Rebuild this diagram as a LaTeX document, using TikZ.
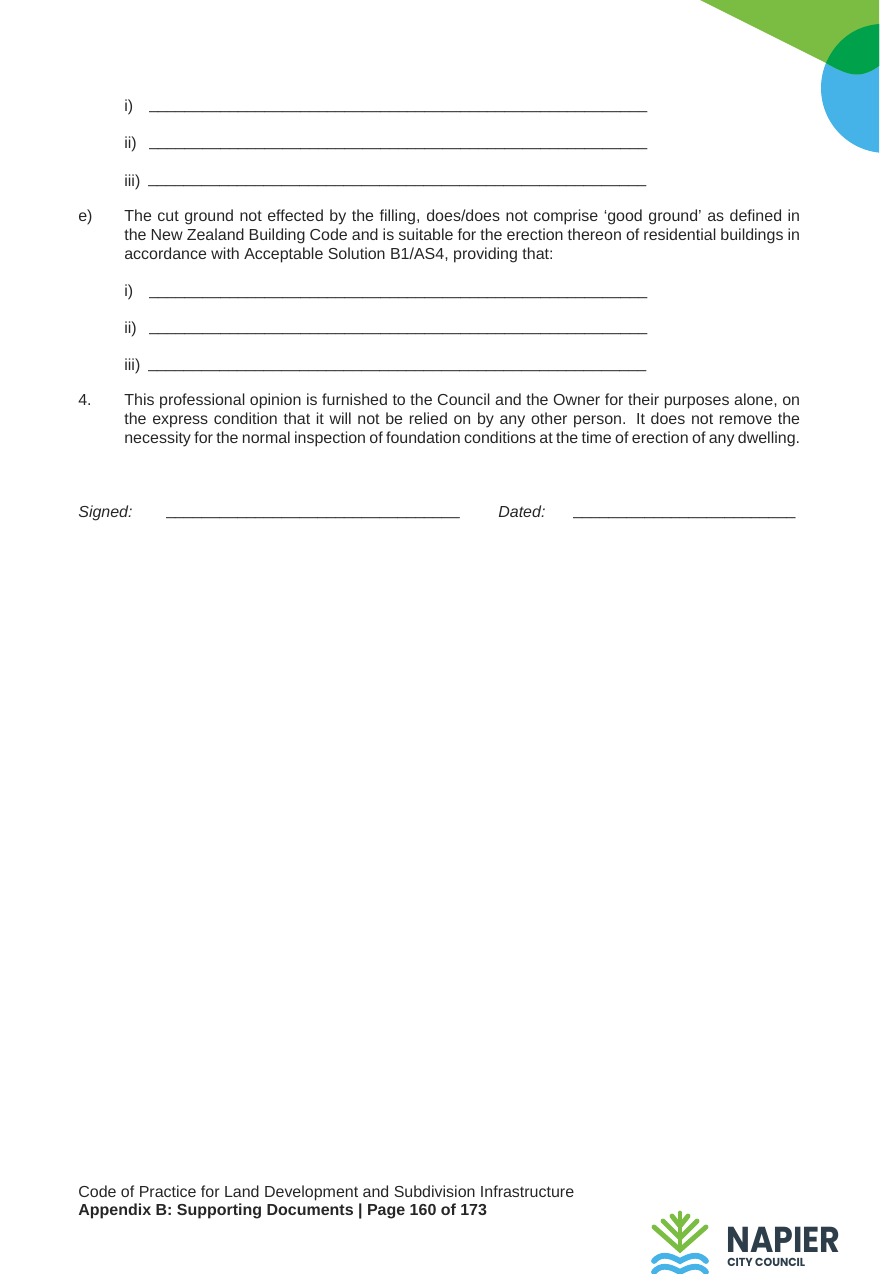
\documentclass[tikz,border=0pt]{standalone}
\usepackage{fontspec}
\setmainfont{Liberation Sans}
\newfontfamily\logofont{Poppins}
\definecolor{bodygrey}{HTML}{262626}
\definecolor{leafgreen}{HTML}{7ABD42}
\definecolor{deepgreen}{HTML}{00A14B}
\definecolor{skyblue}{HTML}{45B3E7}
\definecolor{logoslate}{HTML}{2D3E4A}
\newcommand{\blanks}[1]{\foreach \k in {1,...,#1}{\_}}
\tikzset{
  bodytext/.style={anchor=base west,inner sep=0pt,text=bodygrey,font=\fontsize{9.1}{10.7}\selectfont},
  paratext/.style={anchor=north west,inner sep=0pt,text=bodygrey,text width=13.52cm,align=justify,font=\fontsize{9.1}{10.7}\selectfont},
  treeline/.style={leafgreen,line width=2.8pt,line cap=round},
  waveline/.style={skyblue,line width=3.3pt,line cap=round}
}
\begin{document}
\begin{tikzpicture}[x=0.02cm,y=-0.02cm]

  % Page frame, everything is clipped to it
  \useasboundingbox (0,0) rectangle (879,1274);
  \clip (0,0) rectangle (879,1274);

  % Corner artwork at the top right
  \fill[skyblue] (886,88) circle (65);
  \fill[leafgreen] (700,0) -- (826,63) .. controls (838,70) and (848,74.5) .. (857,74.5)
    .. controls (865,74.5) and (872,71) .. (879,66) -- (879,0) -- cycle;
  \fill[deepgreen] (826,63) .. controls (836,40) and (855,26) .. (879,24) -- (879,66)
    .. controls (872,71) and (865,74.5) .. (857,74.5)
    .. controls (848,74.5) and (838,70) .. (826,63) -- cycle;

  % First list of blanks
  \node[bodytext] (ione) at (124,112) {i)};
  \node[bodytext] (lone) at (149,110) {\blanks{56}};
  \node[bodytext] (iione) at (124,149) {ii)};
  \node[bodytext] (ltwo) at (149,146.5) {\blanks{56}};
  \node[bodytext] (iiione) at (124,186) {iii)};
  \node[bodytext] (lthree) at (148,183.5) {\blanks{56}};

  % Clause e
  \node[bodytext] (clausee) at (78,221) {e)};
  \node[paratext] (parae) at (124,210) {The cut ground not effected by the filling, does/does not comprise ‘good ground’ as defined in\linebreak
    the New Zealand Building Code and is suitable for the erection thereon of residential buildings in\linebreak
    accordance with Acceptable Solution B1/AS4, providing that:};

  % Second list of blanks
  \node[bodytext] (itwo) at (124,296) {i)};
  \node[bodytext] (lfour) at (149,295) {\blanks{56}};
  \node[bodytext] (iitwo) at (124,333) {ii)};
  \node[bodytext] (lfive) at (149,331) {\blanks{56}};
  \node[bodytext] (iiitwo) at (124,370) {iii)};
  \node[bodytext] (lsix) at (148,368) {\blanks{56}};

  % Clause 4
  \node[bodytext] (clausefour) at (78,405) {4.};
  \node[paratext] (parafour) at (124,394) {This professional opinion is furnished to the Council and the Owner for their purposes alone, on\linebreak
    the express condition that it will not be relied on by any other person. It does not remove the\linebreak
    necessity for the normal inspection of foundation conditions at the time of erection of any dwelling.\linebreak};

  % Signature line
  \node[bodytext] (signed) at (78,517) {\itshape Signed:};
  \node[bodytext] (lsign) at (166,515) {\blanks{33}};
  \node[bodytext] (dated) at (498,517) {\itshape Dated:};
  \node[bodytext] (ldate) at (573,515) {\blanks{25}};

  % Footer
  \node[bodytext] (footone) at (78,1197) {Code of Practice for Land Development and Subdivision Infrastructure};
  \node[bodytext] (foottwo) at (78,1215) {\bfseries Appendix B: Supporting Documents | Page 160 of 173};

  % Tree of the logo
  \coordinate (root) at (680,1250);
  \coordinate (tip) at (680,1213);
  \draw[treeline] (root) -- (tip);
  \draw[treeline] (654,1227) -- (root) -- (706,1227);
  \draw[treeline] (663,1221) -- (680,1238) -- (697,1221);
  \draw[treeline] (672,1216) -- (680,1226) -- (688,1216);

  % Waves of the logo
  \foreach \y in {1261,1272}{
    \draw[waveline] (654,\y) .. controls (660,\y-7) and (668,\y-7) .. (680,\y)
      .. controls (692,\y-7) and (700,\y-7) .. (706,\y);
  }

  % Lettering of the logo
  \node[anchor=base west,inner sep=0pt,text depth=0pt,text=logoslate,xscale=0.88,transform shape,font=\logofont\bfseries\fontsize{20.5}{22}\selectfont] (napier) at (726,1252) {NAPIER};
  \node[anchor=base west,inner sep=0pt,text height=5pt,text=logoslate,xscale=0.95,transform shape,font=\logofont\bfseries\fontsize{6.6}{8}\selectfont] (city) at (727,1266) {CITY COUNCIL};

\end{tikzpicture}
\end{document}
